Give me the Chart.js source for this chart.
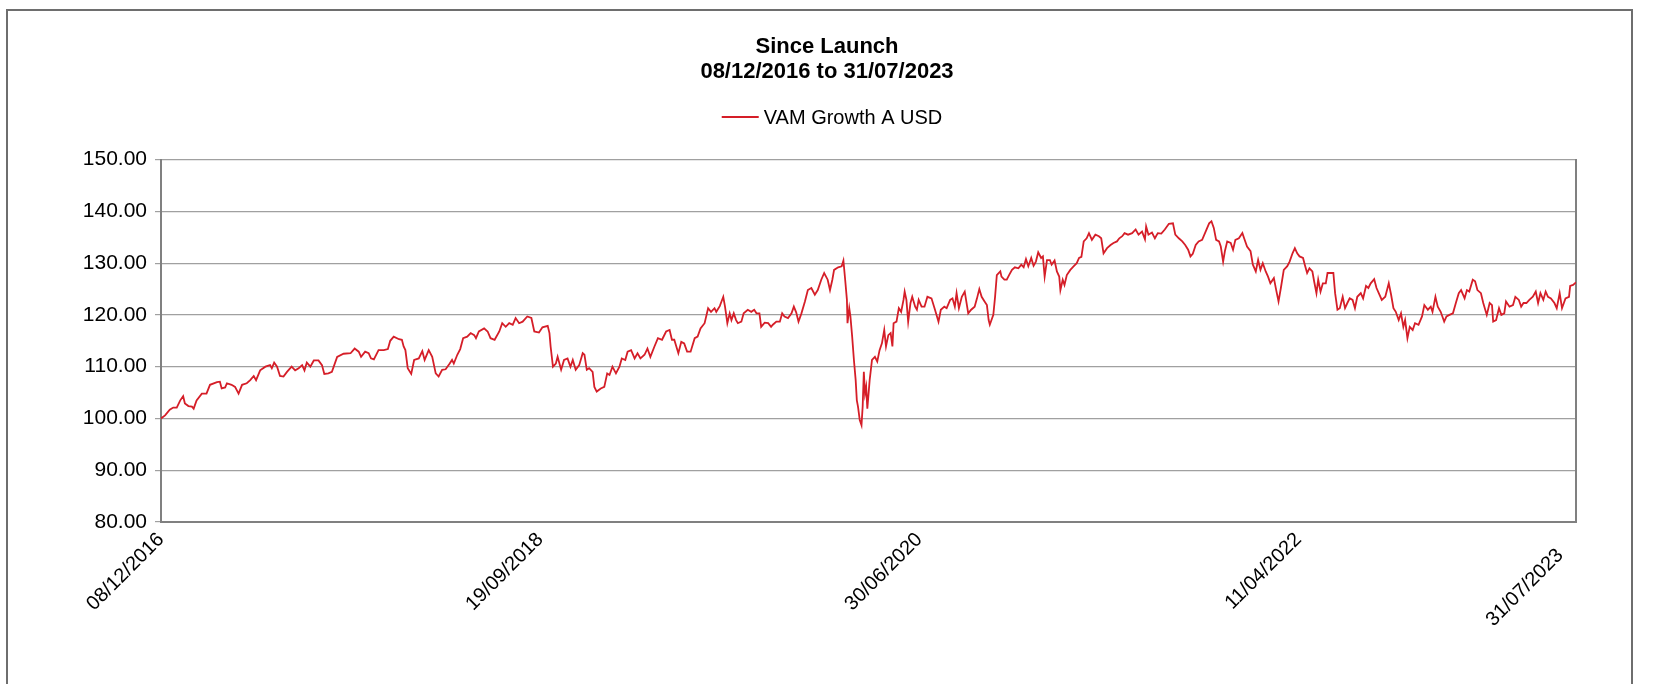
<!DOCTYPE html>
<html>
<head>
<meta charset="utf-8">
<script src="https://cdn.jsdelivr.net/npm/chart.js@4.4.1/dist/chart.umd.min.js"></script>
<style>
html,body{margin:0;padding:0;background:#fff;}
#wrap{width:1654px;height:684px;position:relative;overflow:hidden;}
canvas{display:block;}
</style>
</head>
<body>
<div id="wrap"><canvas id="c" width="1654" height="684"></canvas></div>
<script>
const chartTitle = ["Since Launch", "08/12/2016 to 31/07/2023"];
const seriesName = "VAM Growth A USD";
const tickDays = [0, 650, 1300, 1950, 2426];
const tickLabels = ["08/12/2016", "19/09/2018", "30/06/2020", "11/04/2022", "31/07/2023"];
const yMin = 80, yMax = 150, yStep = 10;

// days since launch (08/12/2016)
const pointDays = [
0,7,15,21,27,33,38,41,47,53,56,61,70,78,84,96,101,104,110,113,121,127,133,139,147,153,159,163,170,179,
187,190,194,199,204,210,216,224,230,236,242,246,250,256,262,270,276,280,287,293,302,313,325,332,339,343,350,356,360,365,
373,382,389,393,399,408,413,416,419,423,429,434,442,448,452,459,465,471,476,482,488,495,499,502,508,513,518,525,531,537,
540,545,554,560,565,572,580,585,591,597,603,608,614,620,628,635,640,648,654,663,666,668,672,677,680,686,691,697,702,706,
711,717,723,726,730,734,740,743,747,754,760,765,769,774,780,786,790,796,800,806,812,817,822,829,834,839,846,852,859,866,
872,876,880,887,892,897,902,908,915,920,925,932,938,943,949,952,958,960,964,967,971,975,978,982,986,989,995,999,1006,1012,
1017,1021,1026,1029,1035,1041,1046,1049,1055,1061,1065,1069,1075,1081,1085,1089,1093,1098,1104,1109,1115,1121,1126,1132,1137,1143,1147,1151,1154,1161,
1167,1170,1173,1176,1177,1180,1182,1185,1188,1191,1193,1195,1198,1201,1203,1205,1207,1209,1211,1215,1219,1224,1228,1232,1236,1240,1243,1247,1251,1254,
1256,1261,1265,1269,1273,1275,1278,1281,1285,1288,1293,1296,1299,1304,1309,1314,1321,1327,1333,1337,1343,1347,1353,1357,1361,1364,1368,1373,1378,1384,
1389,1395,1399,1403,1407,1412,1416,1419,1421,1427,1430,1433,1439,1441,1446,1450,1454,1459,1464,1470,1475,1479,1483,1487,1492,1496,1500,1504,1509,1512,
1515,1519,1524,1527,1532,1536,1540,1542,1546,1549,1553,1559,1565,1570,1574,1578,1582,1587,1591,1596,1602,1608,1612,1616,1622,1628,1633,1639,1643,1648,
1652,1658,1665,1671,1676,1682,1687,1689,1693,1699,1704,1709,1715,1721,1728,1735,1739,1745,1751,1756,1761,1765,1769,1774,1779,1785,1791,1797,1801,1805,
1809,1814,1817,1821,1824,1828,1834,1838,1842,1848,1854,1857,1862,1868,1872,1877,1881,1885,1889,1894,1898,1902,1908,1912,1916,1920,1925,1931,1935,1940,
1944,1948,1952,1958,1961,1965,1969,1974,1977,1981,1984,1988,1992,1997,2000,2006,2010,2013,2017,2021,2026,2030,2034,2038,2043,2047,2051,2057,2061,2066,
2070,2074,2080,2084,2089,2093,2099,2105,2109,2113,2117,2122,2126,2130,2133,2137,2141,2146,2150,2156,2162,2166,2172,2177,2180,2185,2189,2194,2200,2204,
2209,2215,2220,2225,2229,2235,2239,2243,2249,2253,2257,2263,2267,2273,2278,2282,2284,2289,2294,2298,2303,2306,2312,2318,2322,2328,2332,2336,2341,2346,
2352,2357,2361,2365,2370,2374,2378,2383,2389,2393,2398,2402,2408,2414,2416,2421,2426
];

const pointValues = [
100.0,100.6,101.7,102.1,102.1,103.5,104.3,102.9,102.4,102.3,101.9,103.5,104.8,104.8,106.5,107.0,107.1,105.8,106.0,106.8,106.5,106.1,104.8,106.5,106.8,107.4,108.2,107.4,109.3,110.0,
110.3,109.7,110.8,110.0,108.2,108.1,109.0,110.0,109.3,109.7,110.3,109.3,110.8,110.0,111.2,111.2,110.3,108.6,108.7,109.0,111.9,112.5,112.6,113.5,112.9,111.9,112.9,112.6,111.6,111.4,
113.2,113.2,113.4,115.0,115.8,115.3,115.2,113.9,113.2,109.7,108.6,111.3,111.6,113.0,111.3,113.2,111.9,108.7,108.1,109.4,109.5,110.6,111.3,110.6,112.3,113.4,115.5,115.8,116.5,116.1,
115.5,116.8,117.4,116.8,115.5,115.2,116.8,118.4,117.7,118.4,118.1,119.4,118.4,118.7,119.7,119.4,116.8,116.6,117.6,117.9,116.5,113.9,110.0,110.6,111.9,109.4,111.3,111.6,110.0,111.3,
109.4,110.3,112.6,112.3,109.4,109.7,109.0,106.1,105.2,105.8,106.1,108.7,108.4,110.0,108.7,110.0,111.6,111.3,112.9,113.2,111.6,112.6,111.6,112.3,113.5,111.9,113.9,115.5,115.2,116.8,
117.1,115.2,115.2,112.6,114.8,114.5,112.9,112.9,115.5,115.8,117.4,118.4,121.3,120.6,121.3,120.6,121.7,122.3,123.5,121.6,118.4,120.3,119.0,120.3,119.0,118.4,118.7,120.3,121.0,120.6,
121.0,120.3,120.3,117.7,118.5,118.4,117.7,118.1,118.7,118.7,120.3,119.7,119.4,120.3,121.6,120.5,118.7,120.3,122.6,124.8,125.2,123.9,124.8,126.8,128.1,126.8,124.8,126.8,128.7,129.2,
129.4,130.5,126.8,122.9,118.4,121.3,119.7,115.8,111.3,107.4,103.5,102.3,99.7,98.7,102.3,109.0,104.8,106.1,101.9,107.4,111.3,111.9,111.0,113.2,114.5,117.1,113.9,116.1,116.5,113.9,
118.4,118.7,121.3,120.6,122.9,124.5,122.9,118.7,122.3,123.5,121.6,121.0,122.9,121.6,121.6,123.5,123.2,121.0,118.7,121.0,121.6,121.3,122.9,123.2,121.6,124.2,121.3,123.5,124.5,120.3,
121.0,121.6,123.2,125.0,123.5,122.6,121.9,119.0,118.1,120.0,123.5,127.7,128.4,127.4,126.8,126.8,127.7,128.7,129.2,129.0,129.7,129.2,130.8,129.4,131.0,129.5,130.3,132.1,131.0,131.3,
127.4,130.6,130.6,129.7,130.5,128.4,127.4,124.8,126.8,125.8,127.7,128.7,129.4,130.0,131.0,131.2,134.2,134.8,135.8,134.5,135.5,135.2,134.8,131.9,132.9,133.5,133.9,134.2,134.8,135.2,
135.8,135.5,135.8,136.5,135.5,136.1,134.6,137.1,135.5,135.9,134.8,135.8,135.7,136.5,137.6,137.7,135.5,134.8,134.2,133.5,132.6,131.3,131.8,133.5,134.2,134.5,136.1,137.7,138.1,136.8,
134.5,134.2,133.2,130.3,132.3,134.2,133.9,132.6,134.5,134.8,135.8,134.8,133.2,132.3,129.7,128.4,130.6,128.7,130.0,128.4,127.4,126.1,127.1,124.8,122.6,125.2,128.7,129.4,130.3,131.9,
132.9,131.9,131.3,131.0,129.7,128.1,129.0,128.4,126.5,124.2,126.8,124.5,126.1,126.1,128.1,128.1,128.1,124.2,121.0,121.3,123.5,121.3,122.3,123.2,122.9,121.3,123.5,124.2,123.2,125.6,
125.2,126.1,126.9,125.2,123.9,122.9,123.5,126.1,123.9,121.3,120.6,119.0,120.3,117.7,119.0,115.5,117.7,117.1,118.4,118.1,119.7,121.9,121.0,121.6,120.6,123.5,121.6,120.6,118.7,119.7,
120.0,120.3,122.3,124.2,124.8,123.2,124.8,124.5,126.8,126.5,124.8,124.2,122.3,120.0,122.3,121.9,118.7,119.0,121.3,120.0,120.3,122.6,121.6,121.9,123.5,122.9,121.6,122.3,122.3,122.9,
123.5,124.5,122.3,124.2,122.9,124.5,123.5,123.2,122.3,121.3,124.2,121.3,123.2,123.5,125.6,125.8,126.3
];

const FONT = 'Arial, "Liberation Sans", Helvetica, sans-serif';
const LINE_COLOR = 'rgb(213,30,40)';

const framePlugin = {
  id: 'frame',
  beforeDraw(chart) {
    const ctx = chart.ctx;
    ctx.save();
    ctx.fillStyle = '#ffffff';
    ctx.fillRect(0, 0, chart.width, chart.height);
    ctx.strokeStyle = '#6e6e6e';
    ctx.lineWidth = 2;
    ctx.strokeRect(7, 10, 1625, 720);
    ctx.restore();
  },
  afterDraw(chart) {
    const ctx = chart.ctx;
    ctx.save();
    // legend
    const ds = chart.data.datasets[0];
    ctx.font = '20px ' + FONT;
    const tw = ctx.measureText(ds.label).width;
    const lineLen = 37, gap = 5;
    const total = lineLen + gap + tw;
    const x0 = chart.width / 2 + 5 - total / 2;
    const y = 117;
    ctx.strokeStyle = ds.borderColor;
    ctx.lineWidth = 2;
    ctx.beginPath();
    ctx.moveTo(x0, y);
    ctx.lineTo(x0 + lineLen, y);
    ctx.stroke();
    ctx.fillStyle = '#000';
    ctx.textAlign = 'left';
    ctx.textBaseline = 'middle';
    ctx.fillText(ds.label, x0 + lineLen + gap, y + 1);
    ctx.restore();
  }
};

new Chart(document.getElementById('c'), {
  type: 'line',
  data: {
    datasets: [{
      label: seriesName,
      data: pointDays.map((d, i) => ({x: d, y: pointValues[i]})),
      borderColor: LINE_COLOR,
      borderWidth: 1.8,
      pointRadius: 0,
      tension: 0,
      fill: false,
      yAxisID: 'y'
    }]
  },
  options: {
    responsive: false,
    animation: false,
    layout: {padding: 0},
    plugins: {
      legend: {display: false},
      tooltip: {enabled: false},
      title: {
        display: true,
        text: chartTitle,
        color: '#000',
        font: {family: FONT, size: 22, weight: 'bold', lineHeight: 1.15},
        padding: {top: 34, bottom: 75}
      }
    },
    scales: {
      x: {
        type: 'linear',
        min: tickDays[0],
        max: tickDays[tickDays.length - 1],
        afterBuildTicks(scale) { scale.ticks = tickDays.map(v => ({value: v})); },
        afterFit(scale) { scale.height = 162; },
        grid: {display: false, drawTicks: false},
        border: {display: true, color: '#808080', width: 2},
        ticks: {
          autoSkip: false,
          minRotation: 45,
          maxRotation: 45,
          padding: 6,
          color: '#000',
          font: {family: FONT, size: 20},
          callback: (v, i) => (i === tickLabels.length - 1 ? tickLabels[i] + '    ' : tickLabels[i])
        }
      },
      y: {
        position: 'left',
        min: yMin,
        max: yMax,
        afterFit(scale) { scale.width = 161; },
        grid: {color: '#a0a0a0', lineWidth: 1.2, drawTicks: true, tickLength: 6},
        border: {display: true, color: '#808080', width: 2},
        ticks: {
          stepSize: yStep,
          padding: 8,
          color: '#000',
          font: {family: FONT, size: 21},
          callback: v => v.toFixed(2)
        }
      },
      yRight: {
        position: 'right',
        min: yMin,
        max: yMax,
        afterFit(scale) { scale.width = 78; },
        grid: {display: false, drawTicks: false},
        border: {display: true, color: '#808080', width: 2},
        ticks: {display: false}
      }
    }
  },
  plugins: [framePlugin]
});
</script>
</body>
</html>
